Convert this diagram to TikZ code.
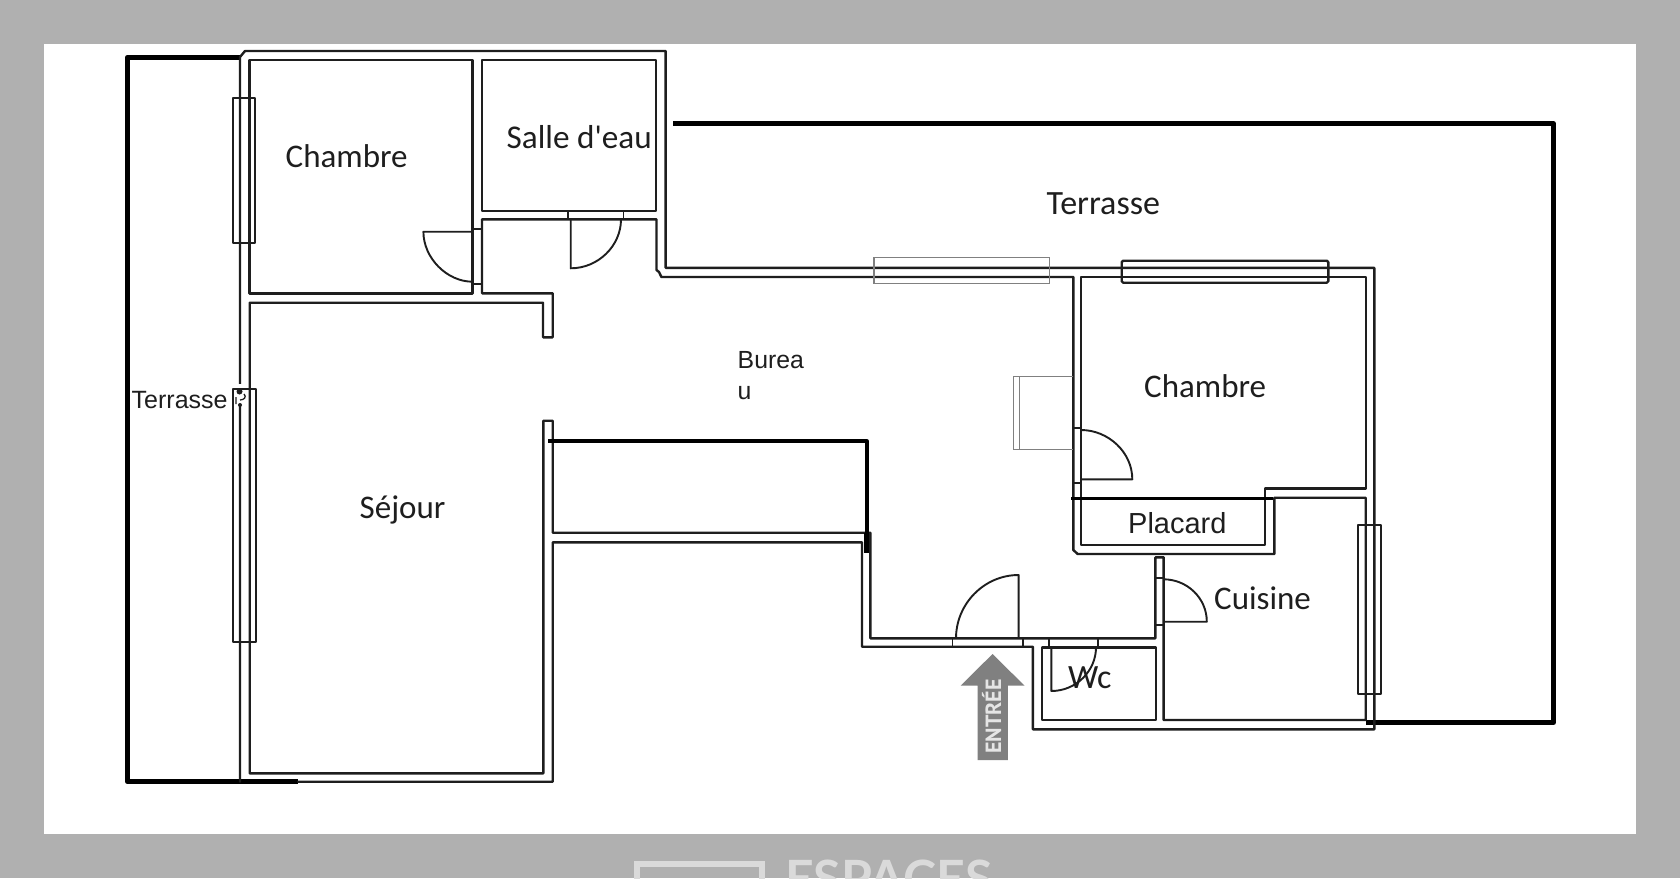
\documentclass[tikz,border=0pt]{standalone}
\usepackage{fontspec}
\newfontfamily\carl{Carlito}
\newfontfamily\arialf{Liberation Sans}
\newfontfamily\logof{Lato}
\newfontfamily\entf{PT Sans}
\definecolor{bgG}{HTML}{B0B0B0}
\definecolor{ink}{HTML}{1E1E1E}
\definecolor{ghost}{HTML}{808080}
\definecolor{arrG}{HTML}{808080}
\definecolor{logoG}{HTML}{DADADA}
\tikzset{
  wall/.style={draw=ink,line width=2.4pt,line join=round,line cap=round},
  thin/.style={draw=ink,line width=1.9pt,line join=round},
  faint/.style={draw=ghost,line width=1.3pt},
  heavy/.style={draw=black,line width=4.6pt,line join=round},
  room/.style={text=ink,inner sep=0pt,anchor=base west},
}
\begin{document}
\begin{tikzpicture}[x=1pt,y=-1pt]
\useasboundingbox (0,0) rectangle (1680,878);
\fill[bgG] (0,0) rectangle (1680,878);
\fill[white] (44,44) rectangle (1636,834);
% logo
\begin{scope}
\clip (0,0) rectangle (1680,878);
\draw[logoG,line width=6pt] (637,900) -- (637,863.5) -- (762,863.5) -- (762,900);
\node[inner sep=0pt,anchor=base west,text=logoG] (logo) at (785,896) {\logof\bfseries\fontsize{50}{50}\selectfont ESPACES};
\end{scope}
% heavy terrace lines
\draw[heavy] (241,57.3) -- (127.3,57.3) -- (127.3,781.7) -- (298,781.7);
\draw[heavy] (673,123.5) -- (1553.5,123.5) -- (1553.5,722.7) -- (1366,722.7);
% outer wall
\draw[wall] (240,781.7) -- (240,57) -- (245,51) -- (665.6,51) -- (665.6,267.8) -- (1374.3,267.8) -- (1374.3,729.3) -- (1032.9,729.3) -- (1032.9,646.7) -- (862,646.7) -- (862,542.3) -- (552.7,542.3) -- (552.7,781.7) -- (298,781.7);
% chambre 1
\draw[wall] (249.6,60) rectangle (472.4,293.3);
% salle d'eau
\draw[wall] (482,60) rectangle (656,210.7);
% hall + corridor
\draw[wall] (482,293.3) -- (482,219.3) -- (656.5,219.3) -- (656.5,270) -- (659,272) -- (661.4,277) -- (1073.3,277) -- (1073.3,550) -- (1077.7,554) -- (1274.3,554) -- (1274.3,497.7) -- (1365.7,497.7) -- (1365.7,720) -- (1163.6,720) -- (1163.6,557.3) -- (1155.4,557.3) -- (1155.4,638.3) -- (870.4,638.3) -- (870.4,532.7) -- (552.7,532.7) -- (552.7,420.7) -- (543.3,420.7) -- (543.3,773.3) -- (249.7,773.3) -- (249.7,302.7) -- (543,302.7) -- (543,337.3) -- (552.7,337.3) -- (552.7,293.3) -- cycle;
% chambre 2
\draw[wall] (1081,277) -- (1365.7,277) -- (1365.7,488.3) -- (1265,488.3) -- (1265,545) -- (1081,545) -- cycle;
% wc
\draw[wall] (1042,647.3) rectangle (1156,720);
% windows
\draw[thin] (233,97.7) rectangle (255.4,243.3);
\fill[white] (237.5,384) rectangle (242.5,404);
\draw[thin] (233.3,389) rectangle (255.7,641.7);
\draw[thin] (1358.3,525) rectangle (1380.7,694.3);
\draw[wall,rounded corners=1.5pt] (1121.7,260.7) rectangle (1328.3,282.7);
\draw[faint] (874,257.7) rectangle (1049.3,283.3);
% mark at the top of the long window
\fill[ink] (239.5,391.5) circle (3pt);
\draw[ink,line width=1.3pt] (236,397) -- (236,404) (244,394) .. controls (247,397) and (244,400) .. (240,400);
\fill[ink] (240,405) circle (2pt);
% ghost outline
\draw[faint] (1073.3,376.7) -- (1013.3,376.7) -- (1013.3,449.3) -- (1073.3,449.3);
\draw[faint] (1019.3,376.7) -- (1019.3,449.3);
% door jambs
\draw[thin] (472.4,229) -- (482,229) (472.4,284.3) -- (482,284.3);
\draw[thin] (567.7,210.7) -- (567.7,219.3) (623.5,210.7) -- (623.5,219.3);
\draw[thin] (1073.3,427.7) -- (1081,427.7) (1073.3,483.3) -- (1081,483.3);
\draw[thin] (952.5,638.3) -- (952.5,646.7) (1022.9,638.3) -- (1022.9,646.7);
\draw[thin] (1049,638.3) -- (1049,647.3) (1097.9,638.3) -- (1097.9,647.3);
\draw[thin] (1155.4,578.3) -- (1163.6,578.3) (1155.4,625) -- (1163.6,625);
% door leaves
\draw[thin] (472.4,231.7) -- (423.4,231.7) .. controls (423.4,258) and (447,281.7) .. (472.4,281.7);
\draw[thin] (570.7,219.3) -- (570.7,268.3) .. controls (598,268.3) and (621,246) .. (621,219.3);
\draw[thin] (1081,479.3) -- (1132.3,479.3) .. controls (1132.3,452) and (1108,430) .. (1081,430);
\draw[thin] (1018.6,638.3) -- (1018.6,575) .. controls (984,575) and (956,604) .. (956,638.3);
\draw[thin] (1051.4,647.3) -- (1051.4,691) .. controls (1076,691) and (1096,671) .. (1096,647.3);
\draw[thin] (1163.6,621.7) -- (1206.8,621.7) .. controls (1206.8,598) and (1187,579.3) .. (1163.6,579.3);
% thick stubs
\draw[heavy,line width=3.6pt] (548,441) -- (866.7,441) -- (866.7,533);
\draw[heavy,line width=5pt,line cap=butt] (866.7,533) -- (866.7,553.3);
\draw[heavy,line width=3.6pt] (1071,498.3) -- (1273,498.3);
% labels
\node[room,font=\carl\fontsize{33}{33}\selectfont] (ch1) at (285.5,167.5) {Chambre};
\node[room,font=\carl\fontsize{33.2}{33.2}\selectfont] (sde) at (506.5,148.7) {Salle d'eau};
\node[room,font=\carl\fontsize{34}{34}\selectfont] (ter1) at (1046.5,214) {Terrasse};
\node[room,font=\carl\fontsize{33}{33}\selectfont] (ch2) at (1144,397.7) {Chambre};
\node[room,font=\carl\fontsize{33}{33}\selectfont] (sej) at (359.5,518) {Séjour};
\node[room,font=\carl\fontsize{33}{33}\selectfont] (cui) at (1214,609.3) {Cuisine};
\node[room,font=\carl\fontsize{34}{34}\selectfont] (wc) at (1068,688.7) {Wc};
\node[room,font=\arialf\fontsize{29}{29}\selectfont] (pla) at (1128,533.8) {Placard};
\node[room,font=\arialf\fontsize{25}{25}\selectfont] (ter2) at (131.5,408) {Terrasse};
\node[room,font=\arialf\fontsize{24.8}{24.8}\selectfont] (bu1) at (737.5,368) {Burea};
\node[room,font=\arialf\fontsize{24.8}{24.8}\selectfont] (bu2) at (737.5,399.5) {u};
% entry arrow
\fill[arrG] (992.5,654) -- (1024.6,685.7) -- (1007.9,685.7) -- (1007.9,760) -- (977.5,760) -- (977.5,685.7) -- (960.7,685.7) -- cycle;
\node[inner sep=0pt,text=white!90!black,rotate=90,font=\entf\bfseries\fontsize{22}{22}\selectfont] (ent) at (991.5,716.5) {ENTRÉE};
\end{tikzpicture}
\end{document}
